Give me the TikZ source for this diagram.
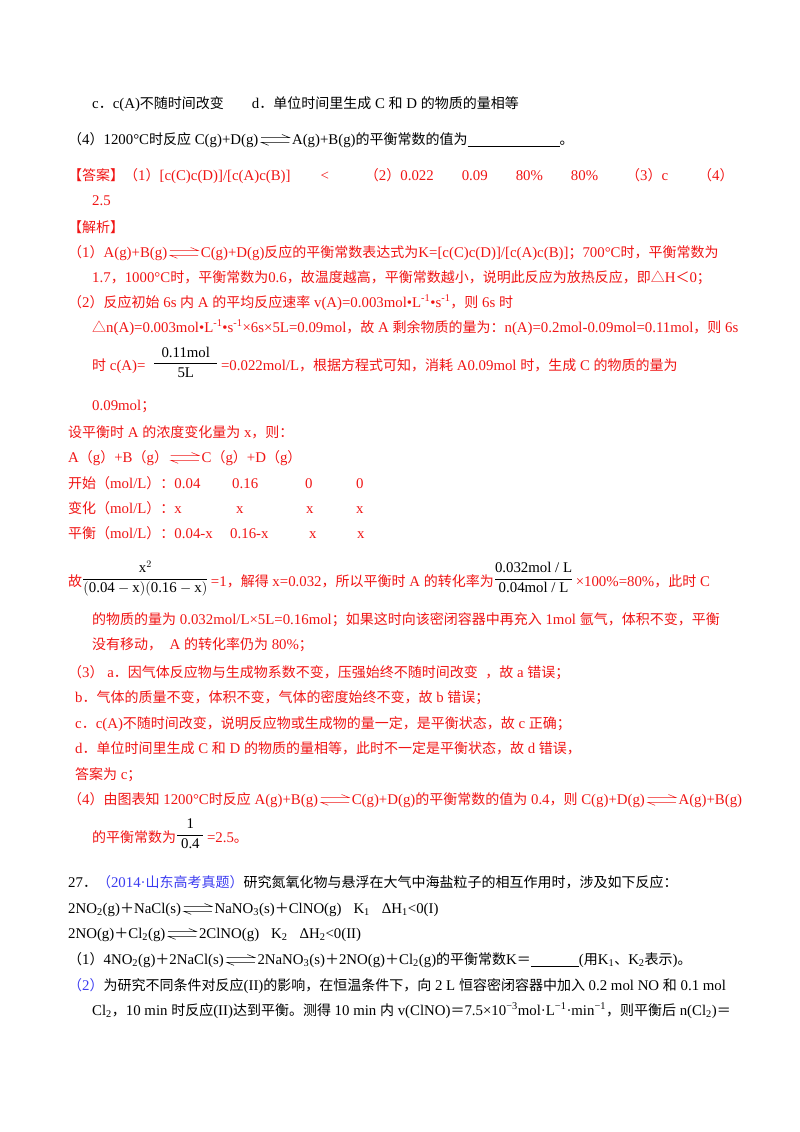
\documentclass[tikz,border=0pt]{standalone}
\usepackage{fontspec}
\setmainfont{Liberation Serif}[Scale=1.06]
\newfontfamily\lat{Liberation Serif}[Scale=1.06]
\newfontfamily\cjk{Noto Sans CJK SC}
\XeTeXinterchartokenstate=1
\newXeTeXintercharclass\cjkcls
\def\setcls#1#2{\count255=#1 \loop\XeTeXcharclass\count255=\cjkcls\ifnum\count255<#2 \advance\count255 1 \repeat}
\setcls{"4E00}{"9FFF}
\setcls{"3000}{"303F}
\setcls{"FF00}{"FFEF}
\XeTeXcharclass"25B3=\cjkcls
\XeTeXinterchartoks 0 \cjkcls = {\cjk}
\XeTeXinterchartoks 4095 \cjkcls = {\cjk}
\XeTeXinterchartoks \cjkcls 0 = {\lat}
\XeTeXinterchartoks \cjkcls 4095 = {\lat}
\definecolor{ansred}{RGB}{240,20,20}
\definecolor{srcblue}{RGB}{60,60,240}
\newcommand\eqarr{\,\tikz[baseline=-0.6ex,line width=0.5pt]{\draw (0,0.35ex)--(1.9em,0.35ex)--++(-0.5em,0.45ex); \draw (1.9em,-0.35ex)--(0,-0.35ex)--++(0.5em,-0.45ex);}\,}
\newcommand\blank[1]{\rule[-2pt]{#1}{0.5pt}}
\tikzset{t/.style={anchor=base west,inner sep=0pt,font=\fontsize{14}{16}\selectfont},r/.style={t,text=ansred}}
\begin{document}
\begin{tikzpicture}[x=1pt,y=-1pt]
\useasboundingbox (0,0) rectangle (800,1132);
\node[t] (l1) at (92,108) {c．c(A)不随时间改变\hspace{28pt}d．单位时间里生成 C 和 D 的物质的量相等};
\node[t] (l2) at (68,144) {（4）1200°C时反应 C(g)+D(g)\eqarr A(g)+B(g)的平衡常数的值为\blank{92pt}。};
\node[r] (l3) at (68,180) {【答案】（1）[c(C)c(D)]/[c(A)c(B)]\hspace{30pt}<\hspace{36pt}（2）0.022\hspace{28pt}0.09\hspace{28pt}80\%\hspace{28pt}80\%\hspace{28pt}（3）c\hspace{30pt}（4）};
\node[r] (l4) at (92,205) {2.5};
\node[r] (l5) at (68,232) {【解析】};
\node[r] (l6) at (68,257) {（1）A(g)+B(g)\eqarr C(g)+D(g)反应的平衡常数表达式为K=[c(C)c(D)]/[c(A)c(B)]；700°C时，平衡常数为};
\node[r] (l7) at (92,282) {1.7，1000°C时，平衡常数为0.6，故温度越高，平衡常数越小，说明此反应为放热反应，即△H＜0；};
\node[r] (l8) at (68,307) {（2）反应初始 6s 内 A 的平均反应速率 v(A)=0.003mol•L\textsuperscript{-1}•s\textsuperscript{-1}，则 6s 时};
\node[r] (l9) at (92,332) {△n(A)=0.003mol•L\textsuperscript{-1}•s\textsuperscript{-1}×6s×5L=0.09mol，故 A 剩余物质的量为：n(A)=0.2mol-0.09mol=0.11mol，则 6s};
\node[r] (l10) at (92,370) {时 c(A)=\ \ \raisebox{0.4ex}{\color{black}$\displaystyle\frac{\mbox{\ \ 0.11mol\ \ }}{\mbox{5L}}$}\,=0.022mol/L，根据方程式可知，消耗 A0.09mol 时，生成 C 的物质的量为};
\node[r] (l11) at (92,410) {0.09mol；};
\node[r] (l12) at (68,437) {设平衡时 A 的浓度变化量为 x，则：};
\node[r] (l13) at (68,462) {A（g）+B（g）\eqarr C（g）+D（g）};
\node[r] (l14) at (68,488) {开始（mol/L）：0.04};
\node[r] at (232,488) {0.16};
\node[r] at (305,488) {0};
\node[r] at (356,488) {0};
\node[r] (l15) at (68,513) {变化（mol/L）：x};
\node[r] at (236,513) {x};
\node[r] at (306,513) {x};
\node[r] at (356,513) {x};
\node[r] (l16) at (68,538) {平衡（mol/L）：0.04-x};
\node[r] at (230,538) {0.16-x};
\node[r] at (309,538) {x};
\node[r] at (357,538) {x};
\node[r] (l17) at (68,586) {故\raisebox{0.5ex}{\color{black}$\displaystyle\frac{\mbox{x}^2}{\bigl(\mbox{0.04}-\mbox{x}\bigr)\bigl(\mbox{0.16}-\mbox{x}\bigr)}$}\,=1，解得 x=0.032，所以平衡时 A 的转化率为\raisebox{0.5ex}{\color{black}$\displaystyle\frac{\mbox{0.032mol / L}}{\mbox{\ 0.04mol / L\ }}$}\,×100\%=80\%，此时 C};
\node[r] (l18) at (92,624) {的物质的量为 0.032mol/L×5L=0.16mol；如果这时向该密闭容器中再充入 1mol 氩气，体积不变，平衡};
\node[r] (l19) at (92,649) {没有移动，\ \ A 的转化率仍为 80\%；};
\node[r] (l20) at (68,677) {（3）\ a．因气体反应物与生成物系数不变，压强始终不随时间改变\ \ ，故 a 错误；};
\node[r] (l21) at (75,702) {b．气体的质量不变，体积不变，气体的密度始终不变，故 b 错误；};
\node[r] (l22) at (75,728) {c．c(A)不随时间改变，说明反应物或生成物的量一定，是平衡状态，故 c 正确；};
\node[r] (l23) at (75,753) {d．单位时间里生成 C 和 D 的物质的量相等，此时不一定是平衡状态，故 d 错误，};
\node[r] (l24) at (75,779) {答案为 c；};
\node[r] (l25) at (68,804) {（4）由图表知 1200°C时反应 A(g)+B(g)\eqarr C(g)+D(g)的平衡常数的值为 0.4，则 C(g)+D(g)\eqarr A(g)+B(g)};
\node[r] (l26) at (92,842) {的平衡常数为\raisebox{0.5ex}{\color{black}$\displaystyle\frac{\mbox{\ 1\ }}{\mbox{\ 0.4\ }}$}\,=2.5。};
\node[t] (l27) at (68,887) {27．{\color{srcblue}（2014·山东高考真题）}研究氮氧化物与悬浮在大气中海盐粒子的相互作用时，涉及如下反应：};
\node[t] (l28) at (68,913) {2NO\textsubscript{2}(g)＋NaCl(s)\eqarr NaNO\textsubscript{3}(s)＋ClNO(g)\hspace{12pt}K\textsubscript{1}\hspace{12pt}ΔH\textsubscript{1}<0(I)};
\node[t] (l29) at (68,938) {2NO(g)＋Cl\textsubscript{2}(g)\eqarr 2ClNO(g)\hspace{12pt}K\textsubscript{2}\hspace{12pt}ΔH\textsubscript{2}<0(II)};
\node[t] (l30) at (68,964) {（1）4NO\textsubscript{2}(g)＋2NaCl(s)\eqarr 2NaNO\textsubscript{3}(s)＋2NO(g)＋Cl\textsubscript{2}(g)的平衡常数K＝\blank{48pt}(用K\textsubscript{1}、K\textsubscript{2}表示)。};
\node[t] (l31) at (68,990) {{\color{srcblue}（2）}为研究不同条件对反应(II)的影响，在恒温条件下，向 2 L 恒容密闭容器中加入 0.2 mol NO 和 0.1 mol};
\node[t] (l32) at (92,1015) {Cl\textsubscript{2}，10 min 时反应(II)达到平衡。测得 10 min 内 v(ClNO)＝7.5×10\textsuperscript{−3}mol·L\textsuperscript{−1}·min\textsuperscript{−1}，则平衡后 n(Cl\textsubscript{2})＝};
\end{tikzpicture}
\end{document}
